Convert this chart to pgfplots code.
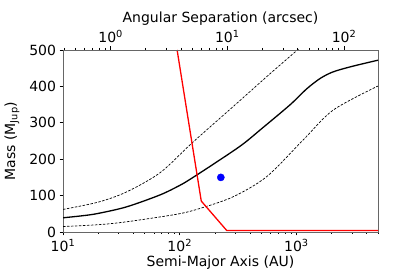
\documentclass[border=0pt]{standalone}
\usepackage{fontspec}
\setmainfont{DejaVu Sans}
\usepackage{pgfplots}
\pgfplotsset{compat=1.18}
\pgfplotsset{every axis/.append style={font=\fontsize{14}{16}\selectfont},
  every tick label/.append style={font=\fontsize{14}{16}\selectfont}}
\begin{document}
\begin{tikzpicture}[font=\fontsize{14}{16}\selectfont]
\useasboundingbox (-63pt,-48pt) rectangle (357pt,232pt);
\begin{axis}[
  at={(0,0)}, anchor=south west,
  scale only axis, width=315pt, height=182pt,
  xmode=log, xmin=10, xmax=5000, ymin=0, ymax=500,
  tick align=outside, xtick pos=bottom, ytick pos=left,
  xtick={10,100,1000},
  xticklabels={10\textsuperscript{1},10\textsuperscript{2},10\textsuperscript{3}},
  minor xtick={20,30,40,50,60,70,80,90,200,300,400,500,600,700,800,900,2000,3000,4000,5000},
  ytick={0,100,200,300,400,500},
  /pgf/number format/assume math mode=true,
  major tick length=3.5pt, minor tick length=2pt,
  axis line style={black!60, line width=0.8pt},
  tick style={black, line width=0.6pt},
  xlabel={Semi-Major Axis (AU)},
  ylabel={Mass (M\textsubscript{Jup})},
  xlabel style={at={(axis description cs:0.5,-0.17)}, anchor=center},
  ylabel style={at={(axis description cs:-0.162,0.5)}, anchor=center, rotate=0},
  clip=true,
]
\addplot[black, line width=1.3pt, smooth, tension=0.5] coordinates {
 (10,39) (15,45) (20,51) (35,69) (68,102) (100,128) (123,145) (200,189) (340,239) (500,283) (879,349) (1222,393) (1600,422) (2066,440) (3000,455) (5000,472)};
\addplot[black, line width=0.7pt, dash pattern=on 2.5pt off 1.5pt, smooth, tension=0.5] coordinates {
 (10,62) (20,82) (35,110) (68,163) (128,245) (300,350) (600,436) (1020,500) (1200,520)};
\addplot[black, line width=0.7pt, dash pattern=on 2.5pt off 1.5pt, smooth, tension=0.5] coordinates {
 (10,15) (20,20) (35,28) (95,49) (150,65) (288,97) (556,152) (1143,253) (2066,335) (5000,401)};
\addplot[red, line width=1.3pt] coordinates {(95,500) (153,85) (253,4) (5000,4)};
\addplot[only marks, mark=*, mark size=3.6pt, color=blue] coordinates {(225,150)};
\end{axis}
\begin{axis}[
  at={(0,0)}, anchor=south west,
  scale only axis, width=315pt, height=182pt,
  xmode=log, xmin=0.3906, xmax=195.3, ymin=0, ymax=500,
  axis x line*=top, hide y axis,
  tick align=outside,
  xtick={1,10,100},
  xticklabels={10\textsuperscript{0},10\textsuperscript{1},10\textsuperscript{2}},
  minor xtick={0.4,0.5,0.6,0.7,0.8,0.9,2,3,4,5,6,7,8,9,20,30,40,50,60,70,80,90},
  major tick length=3.5pt, minor tick length=2pt,
  axis line style={black!60, line width=0.8pt},
  tick style={black, line width=0.6pt},
  xlabel={Angular Separation (arcsec)},
  xlabel style={at={(axis description cs:0.5,1.17)}, anchor=center},
]
\addplot[draw=none] coordinates {(1,0)};
\end{axis}
\end{tikzpicture}
\end{document}
